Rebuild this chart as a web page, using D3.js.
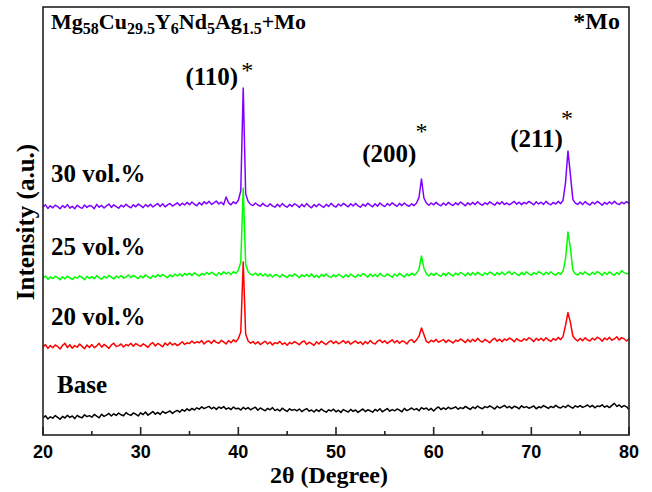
<!DOCTYPE html>
<html><head><meta charset="utf-8">
<script src="https://cdn.jsdelivr.net/npm/d3@7"></script>
<style>body{margin:0;background:#fff}svg{display:block}</style>
</head><body><svg id="c" width="652" height="492"></svg>
<script>
// ---- data (2θ scan, 0.25° step, intensity in counts, offset-stacked) ----
const xTicks = [20, 30, 40, 50, 60, 70, 80];
const xMinorTicks = [25, 35, 45, 55, 65, 75];
const twoTheta = d3.range(0, 241).map(i => 20 + i * 0.25);

const base = [
85,96,80,91, 84,97,88,79,
93,85,99,88, 95,82,98,90,
86,101,92,97, 89,103,94,86,
104,93,99,108, 95,106,98,110,
101,96,112,103, 98,110,104,95,
111,102,115,99, 108,117,104,113,
103,118,109,114, 120,108,117,123,
114,127,119,131, 122,133,125,136,
129,141,132,138, 143,131,139,128,
140,133,142,129, 136,127,140,131,
134,125,138,129, 137,126,133,139,
124,135,128,121, 133,126,137,122,
129,120,134,125, 118,131,123,128,
121,130,117,126, 132,119,125,115,
127,118,130,121, 114,126,120,129,
116,124,113,127, 121,115,128,118,
125,113,122,130, 117,126,121,114,
128,120,131,116, 124,132,119,127,
121,130,124,116, 133,122,128,135,
126,132,121,137, 129,135,124,133,
120,133,140,127, 136,128,139,131,
135,141,129,137, 132,143,135,128,
140,133,145,136, 131,142,137,146,
138,130,144,135, 141,148,136,143,
133,144,139,131, 146,137,142,134,
139,145,131,141, 136,147,140,133,
143,137,148,139, 135,144,138,149,
141,134,146,139, 147,138,143,150,
140,148,136,145, 142,151,139,146,
137,148,158,143, 150,139,147,141,
127];

const vol20 = [
440,452,433,447, 436,450,443,430,
448,458,437,451, 434,447,439,455,
443,431,450,438, 452,437,446,458,
439,453,444,433, 450,459,442,447,
455,440,453,446, 459,444,457,449,
443,456,448,438, 454,462,445,458,
451,441,460,449, 463,450,458,447,
455,466,453,461, 457,470,459,466,
461,472,455,467, 470,458,474,463,
459,473,465,455, 472,461,476,466,
482,515,865,505, 470,459,467,455,
466,452,461,469, 455,465,450,462,
457,468,453,461, 449,463,456,467,
460,451,465,470, 453,464,457,448,
466,455,469,459, 452,465,471,458,
468,456,463,472, 459,469,454,463,
470,458,466,453, 467,457,472,461,
455,469,475,462, 471,458,467,476,
461,472,459,470, 466,455,472,477,
463,476,494,535, 502,468,461,474,
466,478,464,471, 477,463,475,468,
460,474,469,480, 472,462,478,465,
479,468,483,471, 465,478,470,461,
476,484,469,479, 466,480,473,485,
478,466,482,472, 469,481,474,486,
479,467,483,473, 484,471,486,475,
468,482,474,488, 477,493,548,612,
563,495,479,470, 483,471,486,476,
470,484,475,489, 482,469,485,476,
488,474,480,491, 475,487,481,470,
483];

const vol25 = [
785,795,778,790, 782,794,787,776,
791,780,795,785, 778,790,784,796,
788,776,793,783, 792,781,797,786,
779,793,785,798, 789,780,795,786,
797,784,790,800, 787,798,791,782,
796,786,801,790, 783,797,789,802,
792,803,794,786, 801,791,805,795,
806,794,808,799, 809,797,811,802,
795,808,800,813, 803,814,805,797,
812,801,816,806, 814,802,817,808,
824,864,1235,854, 816,804,800,810,
797,808,795,806, 793,804,790,801,
800,789,803,794, 787,801,793,805,
797,786,801,792, 803,791,806,788,
799,787,803,793, 805,792,788,801,
791,804,796,787, 802,790,805,795,
788,803,794,807, 800,789,805,793,
804,791,808,797, 792,806,797,789,
805,794,809,798, 790,806,796,809,
799,808,830,895, 834,807,795,809,
798,810,800,793, 809,797,812,802,
795,810,800,813, 806,795,811,799,
812,800,814,804, 797,811,802,815,
808,798,812,802, 815,801,809,818,
802,814,805,797, 813,801,816,806,
799,812,804,817, 810,800,814,804,
816,805,799,812, 803,820,880,1015,
934,824,806,800, 813,803,816,805,
800,813,804,817, 810,798,814,803,
816,805,799,812, 803,822,812,806,
809];

const vol30 = [
1140,1151,1133,1146, 1136,1149,1142,1131,
1147,1137,1152,1134, 1143,1131,1149,1139,
1133,1150,1138,1147, 1144,1132,1153,1139,
1148,1135,1146,1155, 1138,1151,1142,1134,
1149,1140,1154,1143, 1136,1151,1141,1155,
1147,1137,1152,1142, 1154,1140,1149,1157,
1143,1156,1141,1151, 1158,1145,1152,1161,
1147,1159,1150,1163, 1151,1165,1154,1146,
1162,1150,1166,1156, 1168,1153,1161,1170,
1155,1164,1152,1190, 1161,1151,1166,1157,
1174,1220,1735,1207, 1168,1153,1147,1160,
1150,1144,1158,1147, 1143,1156,1146,1139,
1154,1142,1157,1146, 1139,1153,1143,1156,
1149,1138,1154,1142, 1157,1144,1136,1152,
1142,1155,1146,1138, 1153,1143,1158,1146,
1140,1155,1145,1158, 1150,1141,1156,1145,
1158,1146,1139,1154, 1144,1159,1149,1141,
1156,1144,1160,1149, 1142,1157,1148,1161,
1152,1143,1158,1147, 1160,1149,1144,1156,
1147,1160,1188,1280, 1185,1160,1149,1160,
1151,1163,1152,1146, 1160,1149,1163,1153,
1147,1161,1151,1165, 1156,1146,1161,1151,
1163,1152,1166,1155, 1149,1161,1153,1166,
1157,1149,1164,1154, 1166,1153,1160,1151,
1159,1168,1154,1164, 1152,1163,1156,1168,
1160,1151,1166,1155, 1164,1153,1168,1157,
1151,1163,1155,1168, 1157,1174,1262,1420,
1302,1178,1159,1153, 1165,1152,1167,1157,
1150,1164,1155,1168, 1160,1149,1163,1154,
1166,1155,1169,1157, 1152,1164,1156,1167,
1158];

const seriesNames = ["Base", "20 vol.%", "25 vol.%", "30 vol.%"];
const seriesValues = [base, vol20, vol25, vol30];
const seriesColors = ["#000000", "#ff0000", "#00ff00", "#8000ff"];
const peakLabels = ["(110)", "(200)", "(211)"];
const peakPositions = [40.5, 58.75, 73.75];

// ---- layout ----
const svg = d3.select("#c");
const L = 43, R = 629, T = 7, B = 435;
const x = d3.scaleLinear().domain([20, 80]).range([L, R]);
const y = d3.scaleLinear().domain([0, 2140]).range([B, T]);
const serif = "'Liberation Serif','Times New Roman',serif";
const sans = "'Liberation Sans',Arial,sans-serif";

// series
const line = d3.line().x(d => x(d[0])).y(d => y(d[1]));
seriesValues.forEach((vals, i) => {
  svg.append("path")
    .datum(twoTheta.map((t, k) => [t, vals[k]]))
    .attr("d", line)
    .attr("fill", "none")
    .attr("stroke", seriesColors[i])
    .attr("stroke-width", 1.5)
    .attr("stroke-linejoin", "round");
});

// frame
svg.append("rect").attr("x", L).attr("y", T).attr("width", R - L).attr("height", B - T)
  .attr("fill", "none").attr("stroke", "#222").attr("stroke-width", 1.6);

// bottom axis: inward ticks
const ax = svg.append("g").attr("transform", `translate(0,${B})`);
ax.selectAll("line.major").data(xTicks).join("line")
  .attr("x1", d => x(d)).attr("x2", d => x(d)).attr("y1", 0).attr("y2", -8)
  .attr("stroke", "#222").attr("stroke-width", 1.6);
ax.selectAll("line.minor").data(xMinorTicks).join("line")
  .attr("x1", d => x(d)).attr("x2", d => x(d)).attr("y1", 0).attr("y2", -4)
  .attr("stroke", "#222").attr("stroke-width", 1.6);
ax.selectAll("text").data(xTicks).join("text")
  .attr("x", d => x(d)).attr("y", 23).attr("text-anchor", "middle")
  .attr("font-family", sans).attr("font-weight", "bold").attr("font-size", 18)
  .text(d => d);

// axis titles
svg.append("text").attr("x", 329).attr("y", 483).attr("text-anchor", "middle")
  .attr("font-family", serif).attr("font-weight", "bold").attr("font-size", 24)
  .text("2θ (Degree)");
svg.append("text").attr("transform", "translate(34,222) rotate(-90)").attr("text-anchor", "middle")
  .attr("font-family", serif).attr("font-weight", "bold").attr("font-size", 25)
  .text("Intensity (a.u.)");

// title with subscripts
const title = svg.append("text").attr("x", 51).attr("y", 29)
  .attr("font-family", serif).attr("font-weight", "bold").attr("font-size", 22);
const parts = [["Mg", 0], ["58", 1], ["Cu", 0], ["29.5", 1], ["Y", 0], ["6", 1], ["Nd", 0], ["5", 1], ["Ag", 0], ["1.5", 1], ["+Mo", 0]];
let sub = false;
parts.forEach(([t, s]) => {
  const ts = title.append("tspan").text(t);
  if (s) { ts.attr("font-size", 16).attr("dy", sub ? 0 : 5); sub = true; }
  else { ts.attr("dy", sub ? -5 : 0); sub = false; }
});
svg.append("text").attr("x", 620).attr("y", 29).attr("text-anchor", "end")
  .attr("font-family", serif).attr("font-weight", "bold").attr("font-size", 24)
  .text("*Mo");

// series labels
const labelY = [393, 325, 255, 182];
seriesNames.forEach((n, i) => {
  svg.append("text").attr("x", i === 0 ? 57 : 51).attr("y", labelY[i])
    .attr("font-family", serif).attr("font-weight", "bold").attr("font-size", 25)
    .text(n);
});

// peak labels
const peakLabelY = [85, 162, 147];
const starY = [78, 139, 126];
const starDx = [4, 0, -1];
peakLabels.forEach((p, i) => {
  const px = x(peakPositions[i]);
  svg.append("text").attr("x", px - 5).attr("y", peakLabelY[i]).attr("text-anchor", "end")
    .attr("font-family", serif).attr("font-weight", "bold").attr("font-size", 25)
    .text(p);
  svg.append("text").attr("x", px + starDx[i]).attr("y", starY[i]).attr("text-anchor", "middle")
    .attr("font-family", serif).attr("font-size", 24)
    .text("*");
});
</script>
</body></html>
